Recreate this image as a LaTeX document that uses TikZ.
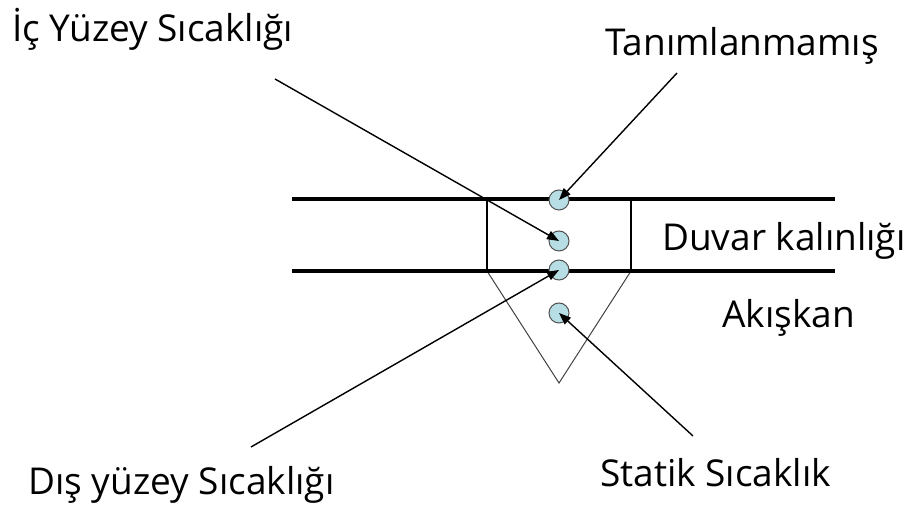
\documentclass[tikz,border=0pt]{standalone}
\usepackage{fontspec}
\setmainfont{Open Sans}
\usetikzlibrary{arrows.meta}
\definecolor{dotfill}{RGB}{183,222,228}
\definecolor{dotedge}{RGB}{80,80,80}
\tikzset{
  lbl/.style={anchor=base west, inner sep=0pt, font=\fontsize{37}{42}\selectfont},
  dot/.style={circle, draw=dotedge, line width=1pt, fill=dotfill, minimum size=20pt, inner sep=0pt},
  wall/.style={line width=3.2pt, black},
  thin/.style={line width=1.1pt, black},
  ptr/.style={line width=1.4pt, -{Triangle[length=12pt,width=9pt]}}
}
\begin{document}
\begin{tikzpicture}[x=1pt,y=1pt]
\useasboundingbox (0,0) rectangle (907,513);
% geometry
\coordinate (wl1) at (292,314); \coordinate (wr1) at (835,314);
\coordinate (wl2) at (292,242); \coordinate (wr2) at (835,242);
\coordinate (rtl) at (487,314); \coordinate (rtr) at (631,314);
\coordinate (rbl) at (487,242); \coordinate (rbr) at (631,242);
\coordinate (apex) at (559,130);
\draw[thin] (rtl) -- (rbl);
\draw[thin] (rtr) -- (rbr);
\draw[line width=1pt, black!75] (rbl) -- (apex) -- (rbr);
\draw[wall] (wl1) -- (wr1);
\draw[wall] (wl2) -- (wr2);
% dots
\node[dot] (d1) at (559,313) {};
\node[dot] (d2) at (559,272) {};
\node[dot] (d3) at (559,243) {};
\node[dot] (d4) at (559,200) {};
% labels
\node[lbl] (tIc) at (12,471) {İç Yüzey Sıcaklığı};
\node[lbl] (tTan) at (605,457) {Tanımlanmamış};
\node[lbl] (tDuv) at (662,262) {Duvar kalınlığı};
\node[lbl] (tAk) at (722,185) {Akışkan};
\node[lbl] (tDis) at (28,18) {Dış yüzey Sıcaklığı};
\node[lbl] (tSt) at (600,26) {Statik Sıcaklık};
% arrow starts
\coordinate (sTan) at (677,440);
\coordinate (sIc) at (275,434);
\coordinate (sDis) at (251,66);
\coordinate (sSt) at (693,77);
\draw[ptr] (sTan) -- (d1.center);
\draw[ptr] (sIc) -- (d2.center);
\draw[ptr] (sDis) -- (d3.center);
\draw[ptr] (sSt) -- (d4.center);
\end{tikzpicture}
\end{document}
